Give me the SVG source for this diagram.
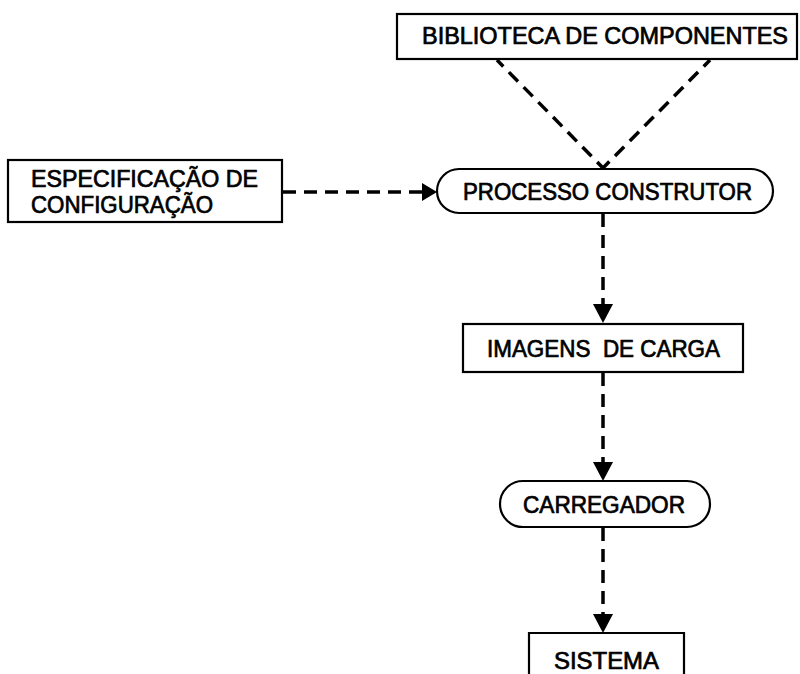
<svg xmlns="http://www.w3.org/2000/svg" width="800" height="674" viewBox="0 0 800 674">
  <style>
    .box { fill: #fff; stroke: #000; stroke-width: 2.2; }
    .lbl { font-family: "Liberation Sans", Arial, sans-serif; font-size: 23px; fill: #000; stroke: #000; stroke-width: 0.7; }
    .flow { fill: none; stroke: #000; stroke-width: 3.5; stroke-dasharray: 13 8; }
  </style>
  <rect width="800" height="674" fill="#fff"/>

  <g id="connectors">
    <line class="flow" x1="497" y1="60" x2="603" y2="168" stroke-dashoffset="4"/>
    <line class="flow" x1="710" y1="60" x2="603" y2="168" stroke-dashoffset="4"/>
    <line class="flow" x1="283" y1="192" x2="424" y2="192"/>
    <path d="M422,183 L437,192 L422,201 Z" fill="#000"/>
    <line class="flow" x1="603" y1="214" x2="603" y2="305"/>
    <path d="M593,304 L613,304 L603,323 Z" fill="#000"/>
    <line class="flow" x1="603" y1="373" x2="603" y2="463"/>
    <path d="M593,462 L613,462 L603,481 Z" fill="#000"/>
    <line class="flow" x1="603" y1="528" x2="603" y2="615"/>
    <path d="M593,614 L613,614 L603,633 Z" fill="#000"/>
  </g>

  <g id="biblioteca">
    <rect class="box" x="397" y="14" width="400" height="45"/>
    <text class="lbl" x="422" y="44" textLength="366" lengthAdjust="spacingAndGlyphs" font-size="22.5">BIBLIOTECA DE COMPONENTES</text>
  </g>

  <g id="especificacao">
    <rect class="box" x="8" y="160" width="274" height="62"/>
    <text class="lbl" x="31" y="187" textLength="227" lengthAdjust="spacingAndGlyphs" font-size="22.5">ESPECIFICAÇÃO DE</text>
    <text class="lbl" x="31" y="213" textLength="182" lengthAdjust="spacingAndGlyphs" font-size="22.5">CONFIGURAÇÃO</text>
  </g>

  <g id="processo">
    <rect class="box" x="437" y="169" width="336" height="44" rx="22" ry="22"/>
    <text class="lbl" x="463" y="200" textLength="289" lengthAdjust="spacingAndGlyphs" font-size="21.5">PROCESSO CONSTRUTOR</text>
  </g>

  <g id="imagens">
    <rect class="box" x="463" y="324" width="280" height="48"/>
    <text class="lbl" x="487" y="357" textLength="233" lengthAdjust="spacingAndGlyphs" xml:space="preserve">IMAGENS  DE CARGA</text>
  </g>

  <g id="carregador">
    <rect class="box" x="500" y="481" width="210" height="46" rx="23" ry="23"/>
    <text class="lbl" x="523" y="513" textLength="162" lengthAdjust="spacingAndGlyphs">CARREGADOR</text>
  </g>

  <g id="sistema">
    <path class="box" d="M529,680 L529,633 L684,633 L684,680"/>
    <text class="lbl" x="554" y="669" textLength="105" lengthAdjust="spacingAndGlyphs">SISTEMA</text>
  </g>
</svg>
